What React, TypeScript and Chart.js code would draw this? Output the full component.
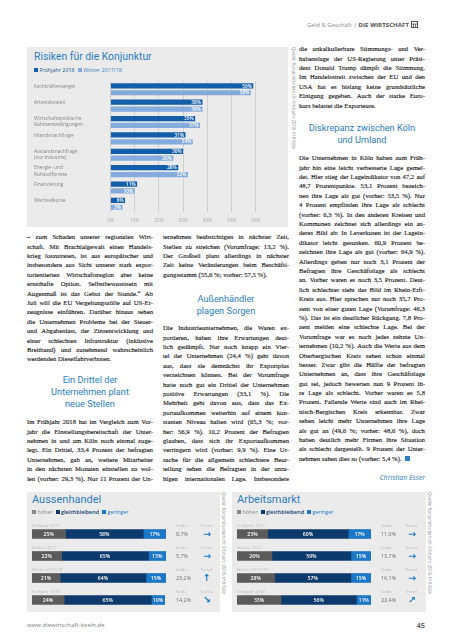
import React, { useEffect, useRef } from "react";
import { Chart, registerables } from "chart.js";
Chart.register(...registerables);

const SANS = '"Open Sans", "Noto Sans", sans-serif';
const HEAD = 'Roboto, "Open Sans", sans-serif';
const SERIF = '"Liberation Serif", serif';
const BLUE_HEAD = "#2d7dc2";

// ---------- Main chart data ----------
const riskCategories: string[][] = [
  ["Fachkräftemangel", ""],
  ["Arbeitskosten", ""],
  ["Wirtschaftspolitische", "Rahmenbedingungen"],
  ["Inlandsnachfrage", ""],
  ["Auslandsnachfrage", "(nur Industrie)"],
  ["Energie- und", "Rohstoffpreise"],
  ["Finanzierung", ""],
  ["Wechselkurse", ""],
];
const riskSpring2018 = [59, 38, 35, 31, 30, 28, 11, 6];
const riskWinter1718 = [58, 38, 37, 34, 26, 32, 10, 5];
const riskSeriesNames = ["Frühjahr 2018", "Winter 2017/18"];

// ---------- Bottom charts data ----------
const periods = ["Frühjahr 2017", "Herbst 2017", "Winter 2017/18", "Frühjahr 2018"];
const shareNames = ["höher", "gleichbleibend", "geringer"];
const exportHigher = [25, 22, 21, 24];
const exportSame = [58, 65, 64, 65];
const exportLower = [17, 13, 15, 10];
const exportSaldo = ["8,7%", "5,7%", "23,2%", "14,2%"];
const exportTrend = ["→", "→", "↑", "↘"];
const jobsHigher = [23, 26, 28, 33];
const jobsSame = [60, 59, 57, 56];
const jobsLower = [17, 15, 15, 11];
const jobsSaldo = ["11,0%", "13,7%", "16,1%", "22,4%"];
const jobsTrend = ["→", "→", "→", "↗"];

// ---------- Text ----------
const col1a = [
  "– zum Schaden unserer regionalen Wirt-",
  "schaft. Mit Brachialgewalt einen Handels-",
  "krieg loszutreten, ist aus europäischer und",
  "insbesondere aus Sicht unserer stark expor-",
  "torientierten Wirtschaftsregion aber keine",
  "ernsthafte Option. Selbstbewusstsein mit",
  "Augenmaß ist das Gebot der Stunde.\u201C Ab",
  "Juli will die EU Vergeltungszölle auf US-Er-",
  "zeugnisse einführen. Darüber hinaus sehen",
  "die Unternehmen Probleme bei der Steuer-",
  "und Abgabenlast, der Zinsentwicklung und",
  "einer schlechten Infrastruktur (inklusive",
  "Breitband) und zunehmend wahrscheinlich",
  "werdenden Dieselfahrverboten.",
];
const col1h = ["Ein Drittel der", "Unternehmen plant", "neue Stellen"];
const col1b = [
  "Im Frühjahr 2018 hat im Vergleich zum Vor-",
  "jahr die Einstellungsbereitschaft der Unter-",
  "nehmen in und um Köln noch einmal zuge-",
  "legt. Ein Drittel, 33,4 Prozent der befragten",
  "Unternehmen, gab an, weitere Mitarbeiter",
  "in den nächsten Monaten einstellen zu wol-",
  "len (vorher: 29,3 %). Nur 11 Prozent der Un-",
];
const col2a = [
  "ternehmen beabsichtigen in nächster Zeit,",
  "Stellen zu streichen (Vorumfrage: 13,2 %).",
  "Der Großteil plant allerdings in nächster",
  "Zeit keine Veränderungen beim Beschäfti-",
  "gungsstamm (55,6 %; vorher: 57,5 %).",
];
const col2h = ["Außenhändler", "plagen Sorgen"];
const col2b = [
  "Die Industrieunternehmen, die Waren ex-",
  "portieren, haben ihre Erwartungen deut-",
  "lich gedämpft. Nur noch knapp ein Vier-",
  "tel der Unternehmen (24,4 %) geht davon",
  "aus, dass sie demnächst ihr Exportplus",
  "verzeichnen können. Bei der Vorumfrage",
  "hatte noch gut ein Drittel der Unternehmen",
  "positive Erwartungen (33,1 %). Die",
  "Mehrheit geht davon aus, dass das Ex-",
  "portaufkommen weiterhin auf einem kon-",
  "stanten Niveau halten wird (65,3 %; vor-",
  "her: 56,9 %). 10,2 Prozent der Befragten",
  "glauben, dass sich ihr Exportaufkommen",
  "verringern wird (vorher: 9,9 %). Eine Ur-",
  "sache für die allgemein schlechtere Beur-",
  "teilung sehen die Befragten in der unru-",
  "higen internationalen Lage. Insbesondere",
];
const col3a = [
  "die unkalkulierbare Stimmungs- und Ver-",
  "haltenslage der US-Regierung unter Präsi-",
  "dent Donald Trump dämpft die Stimmung.",
  "Im Handelsstreit zwischen der EU und den",
  "USA hat es bislang keine grundsätzliche",
  "Einigung gegeben. Auch der starke Euro-",
  "kurs belastet die Exporteure.",
];
const col3h = ["Diskrepanz zwischen Köln", "und Umland"];
const col3b = [
  "Die Unternehmen in Köln haben zum Früh-",
  "jahr hin eine leicht verbesserte Lage gemel-",
  "det. Hier stieg der Lageindikator von 47,2 auf",
  "48,7 Prozentpunkte. 53,1 Prozent bezeich-",
  "nen ihre Lage als gut (vorher: 53,5 %). Nur",
  "4 Prozent empfinden ihre Lage als schlecht",
  "(vorher: 6,3 %). In den anderen Kreisen und",
  "Kommunen zeichnet sich allerdings ein an-",
  "deres Bild ab: In Leverkusen ist der Lagein-",
  "dikator leicht gesunken. 60,9 Prozent be-",
  "zeichnen ihre Lage als gut (vorher: 64,9 %).",
  "Allerdings geben nur noch 3,1 Prozent der",
  "Befragten ihre Geschäftslage als schlecht",
  "an. Vorher waren es noch 3,5 Prozent. Deut-",
  "lich schlechter sieht das Bild im Rhein-Erft-",
  "Kreis aus. Hier sprechen nur noch 35,7 Pro-",
  "zent von einer guten Lage (Vorumfrage: 46,3",
  "%). Das ist ein deutlicher Rückgang. 7,8 Pro-",
  "zent melden eine schlechte Lage. Bei der",
  "Vorumfrage war es noch jedes zehnte Un-",
  "ternehmen (10,2 %). Auch die Werte aus dem",
  "Oberbergischen Kreis sehen schon einmal",
  "besser. Zwar gibt die Hälfte der befragten",
  "Unternehmen an, dass ihre Geschäftslage",
  "gut sei, jedoch bewerten nun 9 Prozent ih-",
  "re Lage als schlecht. Vorher waren es 5,8",
  "Prozent. Fallende Werte sind auch im Rhei-",
  "nisch-Bergischen Kreis erkennbar. Zwar",
  "sehen leicht mehr Unternehmen ihre Lage",
  "als gut an (49,6 %; vorher: 48,6 %), doch",
  "haben deutlich mehr Firmen ihre Situation",
  "als schlecht dargestellt. 9 Prozent der Unter-",
  "nehmen sahen dies so (vorher: 5,4 %).",
];
const sourceText = "Quelle: Konjunkturbericht Frühjahr 2018, IHK Köln";

const LH = 9.4;

function Para(props: { lines: string[]; left: number; top: number; width: number; justifyLast?: boolean; endMark?: boolean }) {
  const { lines, left, top, width, justifyLast, endMark } = props;
  return (
    <div style={{ position: "absolute", left, top, width, fontFamily: SERIF, fontSize: 6.7, color: "#161616", WebkitTextStroke: "0.12px #161616" } as any}>
      {lines.map((l, i) => {
        const last = i === lines.length - 1 && !justifyLast;
        return (
          <div
            key={i}
            style={{
              height: LH,
              lineHeight: LH + "px",
              whiteSpace: "nowrap",
              display: "flex",
              justifyContent: last ? "flex-start" : "space-between",
              columnGap: last ? "0.25em" : 0,
              alignItems: "center",
            }}
          >
            {l.split(" ").map((w, j) => (
              <span key={j}>{w}</span>
            ))}
            {last && endMark ? (
              <span style={{ display: "inline-block", width: 5, height: 5, background: BLUE_HEAD, marginLeft: 2 }} />
            ) : null}
          </div>
        );
      })}
    </div>
  );
}

function Heading(props: { lines: string[]; left: number; top: number; width: number }) {
  return (
    <div style={{ position: "absolute", left: props.left, top: props.top, width: props.width, textAlign: "center", fontFamily: HEAD, fontSize: 9.2, lineHeight: "12px", color: BLUE_HEAD }}>
      {props.lines.map((l, i) => (
        <div key={i}>{l}</div>
      ))}
    </div>
  );
}

function Source(props: { left: number; top: number }) {
  return (
    <div style={{ position: "absolute", left: props.left, top: props.top, writingMode: "vertical-rl", fontFamily: SANS, fontSize: 4.4, lineHeight: "6px", color: "#8a8a8a", whiteSpace: "nowrap" }}>
      {sourceText}
    </div>
  );
}

const DARK = "#125ea8";
const LIGHT = "#85abdc";

function RiskChart() {
  const ref = useRef<HTMLCanvasElement>(null);
  useEffect(() => {
    const valueLabels = {
      id: "valueLabels",
      afterDatasetsDraw(chart: any) {
        const ctx = chart.ctx;
        ctx.save();
        ctx.font = `600 4.8px ${SANS}`;
        ctx.fillStyle = "#ffffff";
        ctx.textAlign = "right";
        ctx.textBaseline = "middle";
        chart.data.datasets.forEach((ds: any, di: number) => {
          chart.getDatasetMeta(di).data.forEach((bar: any, i: number) => {
            ctx.fillText(ds.data[i] + "%", bar.x - 1.5, bar.y + 0.3);
          });
        });
        ctx.restore();
      },
    };
    const chart = new Chart(ref.current as HTMLCanvasElement, {
      type: "bar",
      data: {
        labels: riskCategories as any,
        datasets: [
          { label: riskSeriesNames[0], data: riskSpring2018, backgroundColor: DARK, categoryPercentage: 0.84, barPercentage: 0.76 },
          { label: riskSeriesNames[1], data: riskWinter1718, backgroundColor: LIGHT, categoryPercentage: 0.84, barPercentage: 0.76 },
        ],
      },
      options: {
        indexAxis: "y",
        responsive: false,
        maintainAspectRatio: false,
        animation: false,
        layout: { padding: { left: 7, right: 32.3, top: 5, bottom: 0 } },
        plugins: { legend: { display: false }, tooltip: { enabled: false }, title: { display: false } },
        scales: {
          x: {
            min: 0,
            max: 60,
            ticks: { stepSize: 10, callback: (v: any) => v + "%", font: { size: 4.6, family: SANS }, color: "#ababab", padding: 5.5 },
            grid: { color: "#c3c3c3", lineWidth: 0.7, drawTicks: false },
            border: { display: false },
            afterFit: (s: any) => {
              s.height = 15;
            },
          },
          y: {
            ticks: { crossAlign: "far", font: { size: 4.9, family: SANS, lineHeight: 1.25 }, color: "#858585", padding: 0 },
            grid: { display: false },
            border: { display: false },
            afterFit: (s: any) => {
              s.width = 76.5;
            },
          },
        },
      },
      plugins: [valueLabels],
    } as any);
    return () => chart.destroy();
  }, []);
  return <canvas ref={ref} width={261} height={152} style={{ position: "absolute", left: 0, top: 28, width: 261, height: 152 }} />;
}

const C_HIGH = "#5b5b5b";
const C_SAME = "#0c3a6c";
const C_LOW = "#1c77c6";

function TrendChart(props: { width: number; higher: number[]; same: number[]; lower: number[]; saldo: string[]; trend: string[] }) {
  const ref = useRef<HTMLCanvasElement>(null);
  useEffect(() => {
    const { higher, same, lower, saldo, trend, width } = props;
    const decor = {
      id: "rowDecor",
      afterDatasetsDraw(chart: any) {
        const ctx = chart.ctx;
        const area = chart.chartArea;
        const yScale = chart.scales.y;
        ctx.save();
        ctx.textBaseline = "middle";
        ctx.textAlign = "center";
        ctx.font = `600 5.2px ${SANS}`;
        ctx.fillStyle = "#ffffff";
        chart.data.datasets.forEach((ds: any, di: number) => {
          chart.getDatasetMeta(di).data.forEach((bar: any, i: number) => {
            ctx.fillText(ds.data[i] + "%", (bar.base + bar.x) / 2, bar.y + 0.3);
          });
        });
        periods.forEach((p, i) => {
          const y = yScale.getPixelForValue(i);
          ctx.textAlign = "left";
          ctx.font = `4.3px ${SANS}`;
          ctx.fillStyle = "#b9b9b9";
          ctx.fillText(p, area.left, y - 8.5);
          ctx.fillText("Saldo", area.left + 144, y - 8.5);
          ctx.fillText("Trend", area.left + 168, y - 8.5);
          ctx.font = `5.4px ${SANS}`;
          ctx.fillStyle = "#6f6f6f";
          ctx.fillText(saldo[i], area.left + 144, y + 0.3);
          ctx.textAlign = "center";
          ctx.font = `bold 9.5px "DejaVu Sans"`;
          ctx.fillStyle = "#1e78c5";
          ctx.fillText(trend[i], area.left + 175, y + 0.5);
        });
        ctx.restore();
      },
    };
    const chart = new Chart(ref.current as HTMLCanvasElement, {
      type: "bar",
      data: {
        labels: periods,
        datasets: [
          { label: shareNames[0], data: higher, backgroundColor: C_HIGH, barThickness: 9 },
          { label: shareNames[1], data: same, backgroundColor: C_SAME, barThickness: 9 },
          { label: shareNames[2], data: lower, backgroundColor: C_LOW, barThickness: 9 },
        ],
      },
      options: {
        indexAxis: "y",
        responsive: false,
        maintainAspectRatio: false,
        animation: false,
        layout: { padding: { left: 5, right: width - 5 - 134, top: 31, bottom: 1 } },
        plugins: { legend: { display: false }, tooltip: { enabled: false } },
        scales: {
          x: { display: false, stacked: true, min: 0, max: 100 },
          y: { display: false, stacked: true },
        },
      },
      plugins: [decor],
    } as any);
    return () => chart.destroy();
  }, []);
  return <canvas ref={ref} width={props.width} height={120} style={{ position: "absolute", left: 0, top: 0, width: props.width, height: 120 }} />;
}

function Sq(props: { color: string }) {
  return <span style={{ display: "inline-block", width: 4, height: 4, background: props.color, marginRight: 1.5, verticalAlign: "middle", position: "relative", top: -0.5 }} />;
}

function TrendBox(props: { left: number; width: number; title: string; higher: number[]; same: number[]; lower: number[]; saldo: string[]; trend: string[] }) {
  return (
    <div style={{ position: "absolute", left: props.left, top: 492, width: props.width, height: 120, background: "#ebebeb" }}>
      <div style={{ position: "absolute", left: 5, top: 1, fontFamily: HEAD, fontSize: 11, lineHeight: "14px", color: BLUE_HEAD }}>{props.title}</div>
      <div style={{ position: "absolute", left: 5, top: 16, fontFamily: SANS, fontSize: 5.4, lineHeight: "8px", whiteSpace: "nowrap" }}>
        <Sq color="#8a8a8a" />
        <span style={{ color: "#8a8a8a" }}>{shareNames[0]}</span>
        <span style={{ marginLeft: 3 }} />
        <Sq color={C_SAME} />
        <span style={{ color: C_SAME, fontWeight: 600 }}>{shareNames[1]}</span>
        <span style={{ marginLeft: 3 }} />
        <Sq color={C_LOW} />
        <span style={{ color: C_LOW }}>{shareNames[2]}</span>
      </div>
      <TrendChart width={props.width} higher={props.higher} same={props.same} lower={props.lower} saldo={props.saldo} trend={props.trend} />
    </div>
  );
}

function Logo() {
  return (
    <svg width={7} height={7} viewBox="0 0 7 7" style={{ marginLeft: 2, verticalAlign: "middle", position: "relative", top: -0.5 }}>
      <rect x={0.5} y={0.5} width={6} height={6} fill="none" stroke="#555" strokeWidth={1} />
      <line x1={0.5} y1={3} x2={6.5} y2={3} stroke="#555" strokeWidth={0.8} />
      <line x1={2.5} y1={3} x2={2.5} y2={6.5} stroke="#555" strokeWidth={0.8} />
      <line x1={4.5} y1={3} x2={4.5} y2={6.5} stroke="#555" strokeWidth={0.8} />
    </svg>
  );
}

export default function App() {
  const c1 = 27, c2 = 163, c3 = 299, cw = 126;
  return (
    <div style={{ position: "absolute", left: 0, top: 0, width: 453, height: 640, background: "#fff", overflow: "hidden", fontFamily: SANS }}>
      {/* header */}
      <div style={{ position: "absolute", right: 35, top: 20, fontSize: 6, lineHeight: "10px", whiteSpace: "nowrap", color: "#8a8a8a" }}>
        Geld &amp; Geschäft | <span style={{ fontWeight: 700, color: "#4a4a4a", letterSpacing: 0.1 }}>DIE WIRTSCHAFT</span>
        <Logo />
      </div>

      {/* main chart box */}
      <div style={{ position: "absolute", left: 27, top: 47, width: 261, height: 180, background: "#ebebeb" }}>
        <div style={{ position: "absolute", left: 7, top: 3, fontFamily: HEAD, fontSize: 10.4, lineHeight: "14px", color: BLUE_HEAD, whiteSpace: "nowrap" }}>Risiken für die Konjunktur</div>
        <div style={{ position: "absolute", left: 7, top: 19, fontSize: 5.4, lineHeight: "8px", whiteSpace: "nowrap" }}>
          <Sq color={DARK} />
          <span style={{ color: "#1d4f86" }}>{riskSeriesNames[0]}</span>
          <span style={{ marginLeft: 3 }} />
          <Sq color={LIGHT} />
          <span style={{ color: "#3f7fc6" }}>{riskSeriesNames[1]}</span>
        </div>
        <RiskChart />
      </div>
      <Source left={291} top={47} />

      {/* column 1 */}
      <Para lines={col1a} left={c1} top={237 - LH / 2} width={cw} />
      <Heading lines={col1h} left={c1} top={374} width={cw} />
      <Para lines={col1b} left={c1} top={422 - LH / 2} width={cw} justifyLast />

      {/* column 2 */}
      <Para lines={col2a} left={c2} top={237 - LH / 2} width={cw} />
      <Heading lines={col2h} left={c2} top={293} width={cw} />
      <Para lines={col2b} left={c2} top={328 - LH / 2} width={cw} justifyLast />

      {/* column 3 */}
      <Para lines={col3a} left={c3} top={49 - LH / 2} width={cw} />
      <Heading lines={col3h} left={c3} top={122} width={cw} />
      <Para lines={col3b} left={c3} top={158 - LH / 2} width={cw} endMark />
      <div style={{ position: "absolute", left: c3, width: cw, top: 473, textAlign: "right", fontSize: 7, lineHeight: "10px", fontStyle: "italic", color: BLUE_HEAD }}>Christian Esser</div>

      {/* bottom boxes */}
      <TrendBox left={27} width={193} title="Aussenhandel" higher={exportHigher} same={exportSame} lower={exportLower} saldo={exportSaldo} trend={exportTrend} />
      <Source left={221} top={492} />
      <TrendBox left={232} width={194} title="Arbeitsmarkt" higher={jobsHigher} same={jobsSame} lower={jobsLower} saldo={jobsSaldo} trend={jobsTrend} />
      <Source left={427} top={492} />

      {/* footer */}
      <div style={{ position: "absolute", left: 27, top: 620, fontSize: 6, lineHeight: "10px", color: "#7d7d7d" }}>www.diewirtschaft-koeln.de</div>
      <div style={{ position: "absolute", right: 28, top: 619, fontSize: 7.5, lineHeight: "12px", fontWeight: 700, color: "#6a6a6a" }}>45</div>
    </div>
  );
}
